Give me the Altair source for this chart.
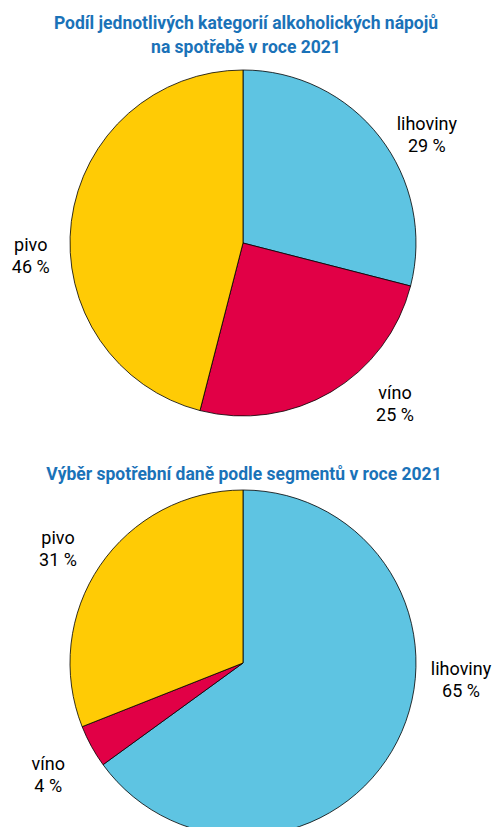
import altair as alt
import pandas as pd

# data
cats_top = ["lihoviny", "víno", "pivo"]
vals_top = [29, 25, 46]
cats_bot = ["lihoviny", "víno", "pivo"]
vals_bot = [65, 4, 31]
title_top = ["Podíl jednotlivých kategorií alkoholických nápojů", "na spotřebě v roce 2021"]
title_bot = "Výběr spotřební daně podle segmentů v roce 2021"

# label nudges (layout only), relative to the library-placed anchor
nudge_top = {"lihoviny": (10, 17), "víno": (40, -38), "pivo": (6, 31)}
nudge_bot = {"lihoviny": (22, -93), "víno": (-2, -4), "pivo": (-3, 0)}

FONT = "Roboto"
BLUE = "#1a72b8"
color_scale = alt.Scale(domain=["lihoviny", "víno", "pivo"],
                        range=["#5ec4e2", "#e10046", "#ffcb05"])


def make_df(cats, vals):
    df = pd.DataFrame({"kat": cats, "val": vals, "ord": list(range(len(cats)))})
    df["label"] = [f"{c}\n{v} %" for c, v in zip(cats, vals)]
    return df


def pie(df, cx, cy, nudge):
    base = alt.Chart(df).encode(
        theta=alt.Theta("val:Q", stack=True),
        order=alt.Order("ord:Q"),
    )
    arcs = base.mark_arc(outerRadius=173, stroke="black", strokeWidth=0.8).encode(
        color=alt.Color("kat:N", scale=color_scale, legend=None),
        x=alt.value(cx), y=alt.value(cy),
    )
    layers = [arcs]
    for k, (dx, dy) in nudge.items():
        layers.append(
            base.mark_text(radius=220, font=FONT, fontSize=18, lineHeight=22,
                           lineBreak="\n", color="black", align="center",
                           baseline="middle", dx=dx, dy=dy).encode(
                text="label:N", x=alt.value(cx), y=alt.value(cy),
                opacity=alt.condition(alt.datum.kat == k, alt.value(1), alt.value(0)),
            )
        )
    return alt.layer(*layers)


t1 = alt.Chart(pd.DataFrame({"t": [title_top]})).mark_text(
    font=FONT, fontSize=17.5, fontWeight="bold", color=BLUE, lineHeight=24,
    align="center", baseline="alphabetic").encode(
    text="t", x=alt.value(238), y=alt.value(21))
t2 = alt.Chart(pd.DataFrame({"t": [title_bot]})).mark_text(
    font=FONT, fontSize=17.5, fontWeight="bold", color=BLUE,
    align="center", baseline="alphabetic").encode(
    text="t", x=alt.value(236), y=alt.value(472))

chart = alt.layer(
    pie(make_df(cats_top, vals_top), 235, 235, nudge_top),
    pie(make_df(cats_bot, vals_bot), 235, 655, nudge_bot),
    t1, t2,
).properties(width=485, height=819, autosize="none", padding=0
).configure_view(stroke=None)

chart.save("out.html", embed_options={"renderer": "svg", "actions": False})
